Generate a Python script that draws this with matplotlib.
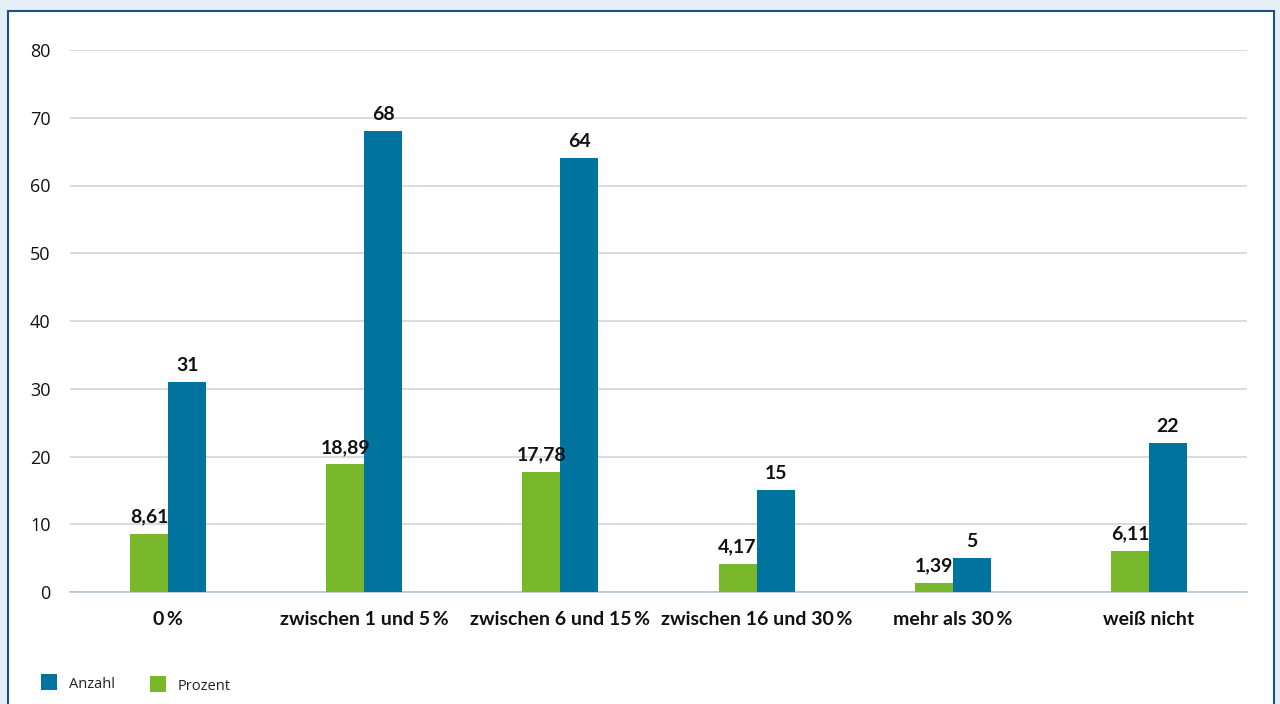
import matplotlib
matplotlib.use("Agg")
import matplotlib.pyplot as plt
from matplotlib.patches import Rectangle
import numpy as np

categories = ["0\u2009%", "zwischen 1 und 5\u2009%", "zwischen 6 und 15\u2009%",
              "zwischen 16 und 30\u2009%", "mehr als 30\u2009%", "weiß nicht"]
prozent = [8.61, 18.89, 17.78, 4.17, 1.39, 6.11]
anzahl = [31, 68, 64, 15, 5, 22]
prozent_labels = ["8,61", "18,89", "17,78", "4,17", "1,39", "6,11"]
anzahl_labels = ["31", "68", "64", "15", "5", "22"]
yticks = [0, 10, 20, 30, 40, 50, 60, 70, 80]

plt.rcParams['font.family'] = ['Open Sans', 'DejaVu Sans']
BOLD = ['Lato', 'DejaVu Sans']

GREEN = "#78b82a"
BLUE = "#00739f"

W, H = 1280, 704
fig = plt.figure(figsize=(W / 100, H / 100), dpi=100)
fig.patch.set_facecolor("#e3eef6")

# white panel with border
panel = Rectangle((8 / W, -0.05), (1274 - 8) / W, (H - 11) / H + 0.05,
                  transform=fig.transFigure, facecolor="white",
                  edgecolor="#1f4e85", linewidth=1.5, zorder=-10)
fig.patches.append(panel)

ax = fig.add_axes([70 / W, (H - 592) / H, (1247 - 70) / W, (592 - 50) / H])
ax.set_facecolor("none")
ax.set_zorder(1)

x = np.arange(len(categories))
bw = 0.194
b1 = ax.bar(x - bw / 2, prozent, bw, color=GREEN, zorder=3, label="Prozent")
b2 = ax.bar(x + bw / 2, anzahl, bw, color=BLUE, zorder=3, label="Anzahl")

for xi, v, lab in zip(x, prozent, prozent_labels):
    ax.text(xi - bw / 2, v + 1.2, lab, ha="center", va="bottom",
            fontsize=14, fontweight="bold", family=BOLD, color="#111111")
for xi, v, lab in zip(x, anzahl, anzahl_labels):
    ax.text(xi + bw / 2, v + 1.2, lab, ha="center", va="bottom",
            fontsize=14, fontweight="bold", family=BOLD, color="#111111")

ax.set_xlim(-0.5, len(categories) - 0.5)
ax.set_ylim(0, 80)
ax.set_yticks(yticks)
ax.set_yticklabels([str(t) for t in yticks], fontsize=13, color="#111111")
ax.set_xticks(x)
ax.set_xticklabels(categories, fontsize=14, fontweight="bold", family=BOLD,
                   color="#111111")
ax.tick_params(axis="both", length=0)
ax.tick_params(axis="y", pad=14)
ax.tick_params(axis="x", pad=14)

ax.grid(axis="y", color="#d0d5da", linewidth=1.2, zorder=0)
ax.set_axisbelow(True)
for s in ["top", "right", "left"]:
    ax.spines[s].set_visible(False)
ax.spines["bottom"].set_color("#b4c6d4")
ax.spines["bottom"].set_linewidth(1.2)

# legend
fig.patches.append(Rectangle((41 / W, (H - 690) / H), 16 / W, 16 / H,
                             transform=fig.transFigure, facecolor=BLUE, zorder=2))
fig.text(69 / W, (H - 684) / H, "Anzahl", fontsize=10.5, va="center", color="#222222")
fig.patches.append(Rectangle((150 / W, (H - 692) / H), 16 / W, 16 / H,
                             transform=fig.transFigure, facecolor=GREEN, zorder=2))
fig.text(178 / W, (H - 686) / H, "Prozent", fontsize=10.5, va="center", color="#222222")

fig.savefig("out.png", dpi=100, facecolor=fig.get_facecolor())
